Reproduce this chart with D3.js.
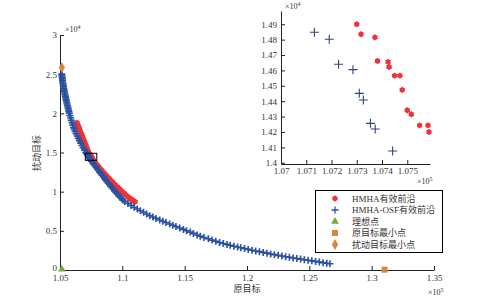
<!DOCTYPE html>
<html>
<head>
<meta charset="utf-8">
<script src="https://cdn.jsdelivr.net/npm/d3@7"></script>
<style>
  body { margin: 0; background: #fff; }
  svg { display: block; }
  text { font-family: 'Liberation Serif', 'Noto Sans CJK SC', serif; fill: #333; }
</style>
</head>
<body>
<div id="root"><svg width="495" height="300"></svg></div>
<script>
// values in display units: f1 x1e5, f2 x1e4
const mainXTicks = [1.05, 1.1, 1.15, 1.2, 1.25, 1.3, 1.35];
const mainXLabels = ['1.05', '1.1', '1.15', '1.2', '1.25', '1.3', '1.35'];
const mainYTicks = [0, 0.5, 1, 1.5, 2, 2.5, 3];
const mainYLabels = ['0', '0.5', '1', '1.5', '2', '2.5', '3'];
const insetXTicks = [1.07, 1.071, 1.072, 1.073, 1.074, 1.075];
const insetXLabels = ['1.07', '1.071', '1.072', '1.073', '1.074', '1.075'];
const insetYTicks = [1.4, 1.41, 1.42, 1.43, 1.44, 1.45, 1.46, 1.47, 1.48, 1.49];
const insetYLabels = ['1.4', '1.41', '1.42', '1.43', '1.44', '1.45', '1.46', '1.47', '1.48', '1.49'];

const hmhaFront = [
  [1.0635, 1.88], [1.0640, 1.86], [1.0645, 1.84], [1.0650, 1.82], [1.0655, 1.80], [1.0659, 1.78],
  [1.0664, 1.76], [1.0669, 1.74], [1.0674, 1.72], [1.0679, 1.70], [1.0684, 1.68], [1.0689, 1.66],
  [1.0694, 1.64], [1.0699, 1.62], [1.0704, 1.60], [1.0709, 1.58], [1.0713, 1.56], [1.0718, 1.54],
  [1.0723, 1.52], [1.0727, 1.505],
  [1.07300, 1.4900], [1.07317, 1.4835], [1.07372, 1.4815], [1.07382, 1.4661], [1.07424, 1.4655],
  [1.07428, 1.4622], [1.07450, 1.4566], [1.07471, 1.4566], [1.07480, 1.4473], [1.07500, 1.4341],
  [1.07516, 1.4315], [1.07549, 1.4243], [1.07582, 1.4243], [1.07586, 1.4200],
  [1.0768, 1.40], [1.0777, 1.38], [1.0787, 1.36], [1.0797, 1.34], [1.0807, 1.32], [1.0818, 1.30],
  [1.0829, 1.28], [1.0840, 1.26], [1.0851, 1.24], [1.0862, 1.22], [1.0873, 1.20], [1.0885, 1.18],
  [1.0897, 1.16], [1.0909, 1.14], [1.0921, 1.12], [1.0933, 1.10], [1.0946, 1.08], [1.0959, 1.06],
  [1.0972, 1.04], [1.0985, 1.02], [1.0998, 1.00], [1.1012, 0.98], [1.1026, 0.96], [1.1041, 0.94],
  [1.1057, 0.92], [1.1074, 0.90], [1.1088, 0.885], [1.1102, 0.872]
];

const osfFront = [
  [1.0514, 2.50], [1.0516, 2.48], [1.0517, 2.46], [1.0519, 2.44], [1.0520, 2.42], [1.0522, 2.40],
  [1.0524, 2.38], [1.0526, 2.36], [1.0528, 2.34], [1.0530, 2.32], [1.0532, 2.30], [1.0535, 2.28],
  [1.0538, 2.26], [1.0540, 2.24], [1.0543, 2.22], [1.0546, 2.20], [1.0548, 2.18], [1.0551, 2.16],
  [1.0554, 2.14], [1.0557, 2.12], [1.0560, 2.10], [1.0563, 2.08], [1.0566, 2.06], [1.0569, 2.04],
  [1.0572, 2.02], [1.0575, 2.00], [1.0580, 1.97], [1.0586, 1.94], [1.0591, 1.91], [1.0597, 1.88],
  [1.0603, 1.85], [1.0608, 1.82], [1.0612, 1.80], [1.0620, 1.77], [1.0629, 1.74], [1.0638, 1.71],
  [1.0647, 1.68], [1.0656, 1.65], [1.0666, 1.62], [1.0676, 1.59], [1.0686, 1.56], [1.0697, 1.53],
  [1.0707, 1.50],
  [1.07132, 1.4848], [1.07191, 1.4802], [1.07228, 1.4640], [1.07285, 1.4605], [1.07310, 1.4451],
  [1.07326, 1.4408], [1.07354, 1.4256], [1.07373, 1.4219], [1.07442, 1.4076],
  [1.0752, 1.39], [1.0761, 1.37], [1.0771, 1.35], [1.0780, 1.33], [1.0790, 1.31], [1.0799, 1.29],
  [1.0809, 1.27], [1.0818, 1.25], [1.0828, 1.23], [1.0837, 1.21], [1.0847, 1.19], [1.0857, 1.17],
  [1.0866, 1.15], [1.0876, 1.13], [1.0886, 1.11], [1.0896, 1.09], [1.0906, 1.07], [1.0917, 1.05],
  [1.0928, 1.03], [1.0938, 1.01], [1.0949, 0.99], [1.0960, 0.97], [1.0971, 0.95], [1.0983, 0.93],
  [1.0995, 0.91], [1.1005, 0.89],
  [1.1020, 0.875], [1.1045, 0.850], [1.1070, 0.825], [1.1095, 0.800], [1.1120, 0.778], [1.1145, 0.757],
  [1.1170, 0.736], [1.1195, 0.714], [1.1220, 0.694], [1.1245, 0.676], [1.1270, 0.659], [1.1300, 0.638],
  [1.1325, 0.622], [1.1350, 0.606], [1.1380, 0.588], [1.1405, 0.572], [1.1430, 0.556], [1.1460, 0.537],
  [1.1490, 0.518], [1.1515, 0.502], [1.1545, 0.484], [1.1570, 0.467], [1.1600, 0.447], [1.1625, 0.432],
  [1.1655, 0.415], [1.1690, 0.398], [1.1720, 0.382], [1.1750, 0.367], [1.1780, 0.352], [1.1810, 0.339],
  [1.1840, 0.327], [1.1865, 0.316], [1.1895, 0.304], [1.1925, 0.294], [1.1950, 0.285], [1.1980, 0.274],
  [1.2010, 0.263], [1.2040, 0.252], [1.2070, 0.243], [1.2100, 0.234], [1.2130, 0.225], [1.2160, 0.215],
  [1.2190, 0.205], [1.2220, 0.196], [1.2250, 0.187], [1.2280, 0.179], [1.2310, 0.170], [1.2340, 0.162],
  [1.2370, 0.154], [1.2400, 0.146], [1.2430, 0.139], [1.2460, 0.131], [1.2490, 0.124], [1.2520, 0.117],
  [1.2550, 0.110], [1.2580, 0.102], [1.2610, 0.094], [1.2640, 0.087], [1.2665, 0.080]
];

const idealPoint = [1.0515, 0.008];
const origMinPoint = [1.3103, 0.004];
const pertMinPoint = [1.0515, 2.585];
const zoomBox = [[1.0703, 1.40], [1.0795, 1.49]];
const legendLabels = ['HMHA有效前沿', 'HMHA-OSF有效前沿', '理想点', '原目标最小点', '扰动目标最小点'];

const RED = '#ee3238';
const BLUE = '#2b51a0';
const NAVY = '#2f4478';
const GREEN = '#77ac30';
const ORANGE = '#d4883e';

function hexagram(r) {
  const pts = [];
  for (let i = 0; i < 12; i++) {
    const a = -Math.PI / 2 + i * Math.PI / 6;
    const rr = i % 2 === 0 ? r : r * 0.78;
    pts.push([rr * Math.cos(a), rr * Math.sin(a)]);
  }
  return 'M' + pts.map(p => p[0].toFixed(2) + ',' + p[1].toFixed(2)).join('L') + 'Z';
}
const plus = (s) => `M${-s},0H${s}M0,${-s}V${s}`;

function styleAxis(g) {
  g.attr('font-family', null).attr('font-size', null);
  g.select('.domain').attr('stroke', '#222');
  g.selectAll('.tick line').attr('stroke', '#222');
  g.selectAll('.tick text').attr('fill', '#333').style('font-size', '9px');
}

function power(svg, x, y, base, exp) {
  const t = svg.append('text').attr('x', x).attr('y', y).style('font-size', '8px').text(base);
  t.append('tspan').attr('dy', -3).style('font-size', '6px').text(exp);
}

function drawChart() {
  const svg = d3.select('#root svg');

  const xScale = d3.scaleLinear().domain([1.05, 1.35]).range([60, 434]);
  const yScale = d3.scaleLinear().domain([0, 3]).range([270, 35]);

  svg.append('g')
    .attr('transform', 'translate(0 270)')
    .call(d3.axisBottom(xScale).tickValues(mainXTicks).tickFormat((d, i) => mainXLabels[i])
      .tickSizeInner(-4).tickSizeOuter(0).tickPadding(5))
    .call(styleAxis);
  svg.append('g')
    .attr('transform', 'translate(60 0)')
    .call(d3.axisLeft(yScale).tickValues(mainYTicks).tickFormat((d, i) => mainYLabels[i])
      .tickSizeInner(-4).tickSizeOuter(0).tickPadding(3))
    .call(styleAxis)
    .selectAll('.tick text').attr('dy', (d, i) => i === 0 ? '0.05em' : '0.32em');

  power(svg, 65, 32, '×10', '4');
  power(svg, 428, 295, '×10', '5');

  svg.append('text')
    .attr('x', 247).attr('y', 292)
    .attr('text-anchor', 'middle')
    .style('font-size', '9px')
    .text('原目标');
  svg.append('text')
    .attr('transform', 'translate(40 153) rotate(-90)')
    .attr('text-anchor', 'middle')
    .style('font-size', '9px')
    .text('扰动目标');

  // fronts
  svg.append('g').selectAll('path').data(hmhaFront).enter()
    .append('path')
    .attr('transform', d => `translate(${xScale(d[0])} ${yScale(d[1])})`)
    .attr('d', hexagram(3.3))
    .attr('fill', RED);

  svg.append('g').selectAll('path').data(osfFront).enter()
    .append('path')
    .attr('transform', d => `translate(${xScale(d[0])} ${yScale(d[1])})`)
    .attr('d', plus(3.5))
    .attr('stroke', BLUE)
    .attr('stroke-width', 1.6)
    .attr('fill', 'none');

  svg.append('path')
    .attr('transform', `translate(${xScale(idealPoint[0])} ${yScale(idealPoint[1])})`)
    .attr('d', d3.symbol(d3.symbolTriangle, 26)())
    .attr('fill', GREEN);
  svg.append('rect')
    .attr('x', xScale(origMinPoint[0]) - 3).attr('y', yScale(origMinPoint[1]) - 3)
    .attr('width', 6).attr('height', 6)
    .attr('fill', ORANGE);
  svg.append('path')
    .attr('transform', `translate(${xScale(pertMinPoint[0])} ${yScale(pertMinPoint[1])})`)
    .attr('d', d3.symbol(d3.symbolDiamond, 34)())
    .attr('fill', ORANGE);

  svg.append('rect')
    .attr('x', xScale(zoomBox[0][0])).attr('y', yScale(zoomBox[1][1]))
    .attr('width', xScale(zoomBox[1][0]) - xScale(zoomBox[0][0]))
    .attr('height', yScale(zoomBox[0][1]) - yScale(zoomBox[1][1]))
    .attr('fill', 'none')
    .attr('stroke', '#000')
    .attr('stroke-width', 1);

  // inset
  const xIn = d3.scaleLinear().domain([1.07, 1.0759]).range([281, 430]);
  const yIn = d3.scaleLinear().domain([1.3992, 1.4986]).range([164, 11]);
  const inside = d => d[0] >= 1.07 && d[0] <= 1.0759 && d[1] >= 1.3992 && d[1] <= 1.4986;

  svg.append('g')
    .attr('transform', 'translate(0 164)')
    .call(d3.axisBottom(xIn).tickValues(insetXTicks).tickFormat((d, i) => insetXLabels[i])
      .tickSizeInner(-4).tickSizeOuter(0).tickPadding(4))
    .call(styleAxis);
  svg.append('g')
    .attr('transform', 'translate(281 0)')
    .call(d3.axisLeft(yIn).tickValues(insetYTicks).tickFormat((d, i) => insetYLabels[i])
      .tickSizeInner(-4).tickSizeOuter(0).tickPadding(4))
    .call(styleAxis);

  power(svg, 285, 9, '×10', '4');
  power(svg, 417, 184, '×10', '5');

  svg.append('g').selectAll('path').data(hmhaFront.filter(inside)).enter()
    .append('path')
    .attr('transform', d => `translate(${xIn(d[0])} ${yIn(d[1])})`)
    .attr('d', hexagram(3.2))
    .attr('fill', RED);
  svg.append('g').selectAll('path').data(osfFront.filter(inside)).enter()
    .append('path')
    .attr('transform', d => `translate(${xIn(d[0])} ${yIn(d[1])})`)
    .attr('d', plus(4.5))
    .attr('stroke', NAVY)
    .attr('stroke-width', 1.1)
    .attr('fill', 'none');

  // legend
  const legend = svg.append('g');
  legend.append('rect')
    .attr('x', 315.5).attr('y', 190.5)
    .attr('width', 127).attr('height', 62)
    .attr('fill', '#fff')
    .attr('stroke', '#000')
    .attr('stroke-width', 1);
  const rowY = (i) => 198.5 + i * 11.5;
  legendLabels.forEach((label, i) => {
    const row = legend.append('g').attr('transform', `translate(335 ${rowY(i)})`);
    if (i === 0) {
      row.append('path').attr('d', hexagram(3.2)).attr('fill', RED);
    } else if (i === 1) {
      row.append('path').attr('d', plus(3.5)).attr('stroke', BLUE).attr('stroke-width', 1.3).attr('fill', 'none');
    } else if (i === 2) {
      row.append('path').attr('d', d3.symbol(d3.symbolTriangle, 26)()).attr('fill', GREEN);
    } else if (i === 3) {
      row.append('rect').attr('x', -3).attr('y', -3).attr('width', 6).attr('height', 6).attr('fill', ORANGE);
    } else {
      row.append('path').attr('d', d3.symbol(d3.symbolDiamond, 34)()).attr('fill', ORANGE);
    }
    row.append('text')
      .attr('x', 17).attr('y', 3.3)
      .style('font-size', '9px')
      .text(label);
  });
}

window.addEventListener('load', function() {
  drawChart();
});
</script>
</body>
</html>
